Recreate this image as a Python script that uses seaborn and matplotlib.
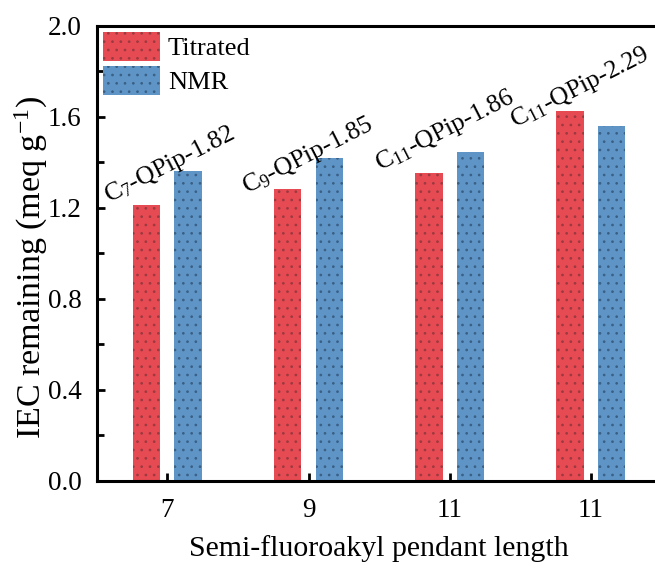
import matplotlib
matplotlib.use("Agg")
import matplotlib.pyplot as plt
from matplotlib.ticker import MultipleLocator
from matplotlib.patches import Patch
import seaborn as sns
import pandas as pd

# ---- data ----
groups = ["C7", "C9", "C11a", "C11b"]
xtick_labels = ["7", "9", "11", "11"]
titrated = [1.21, 1.282, 1.351, 1.626]
nmr = [1.361, 1.42, 1.443, 1.557]
series = ["Titrated", "NMR"]
sample_labels = [r"C$_{7}$-QPip-1.82", r"C$_{9}$-QPip-1.85",
                 r"C$_{11}$-QPip-1.86", r"C$_{11}$-QPip-2.29"]

# label anchor placement (offset from group centre, y in data units)
label_dx = [-0.415, -0.44, -0.493, -0.54]
label_y = [1.222, 1.262, 1.36, 1.553]

df = pd.DataFrame({
    "group": groups * 2,
    "value": titrated + nmr,
    "series": [series[0]] * len(groups) + [series[1]] * len(groups),
})

sns.set_style("ticks")
plt.rcParams["font.family"] = ["Liberation Serif", "DejaVu Serif"]
plt.rcParams["mathtext.fontset"] = "custom"
plt.rcParams["mathtext.rm"] = "Liberation Serif"
plt.rcParams["mathtext.it"] = "Liberation Serif:italic"
plt.rcParams["hatch.linewidth"] = 0.7
plt.rcParams["text.color"] = "black"
plt.rcParams["axes.labelcolor"] = "black"
plt.rcParams["xtick.color"] = "black"
plt.rcParams["ytick.color"] = "black"
plt.rcParams["axes.edgecolor"] = "black"

colors = {"Titrated": "#E64A52", "NMR": "#5E95C6"}
hatch_cols = {"Titrated": "#9A3A40", "NMR": "#3A5F85"}

fig = plt.figure(figsize=(6.55, 5.69), dpi=100)
ax = fig.add_axes([96.7 / 655, 88 / 569, (661.5 - 96.7) / 655, (481 - 25.5) / 569])

sns.barplot(data=df, x="group", y="value", hue="series", order=groups,
            hue_order=series, palette=colors, width=0.588, gap=0.34,
            ax=ax, legend=False, saturation=1)

for cont, s in zip(ax.containers, series):
    for p in cont:
        p.set_hatch("..")
        p.set_edgecolor(hatch_cols[s])
        p.set_linewidth(0)

ax.set_xlim(-0.5, 3.5)
ax.set_ylim(0, 2.0)
ax.yaxis.set_major_locator(MultipleLocator(0.4))
ax.yaxis.set_minor_locator(MultipleLocator(0.2))
ax.set_yticks([0, 0.4, 0.8, 1.2, 1.6, 2.0])
ax.set_yticklabels(["0.0", "0.4", "0.8", "1.2", "1.6", "2.0"])
ax.set_xticks(range(len(groups)))
ax.set_xticklabels(xtick_labels)
ax.tick_params(axis="both", which="major", direction="in", length=6, width=2,
               labelsize=19.5)
ax.tick_params(axis="y", which="major", pad=11)
ax.tick_params(axis="x", which="major", pad=12)
ax.tick_params(axis="y", which="minor", direction="in", length=5, width=2)
for sp in ax.spines.values():
    sp.set_linewidth(2.2)
    sp.set_visible(True)

ax.set_xlabel("Semi-fluoroakyl pendant length", fontsize=21.5, labelpad=9)
ax.set_ylabel(r"IEC remaining (meq g$^{-1}$)", fontsize=24.5)
ax.yaxis.set_label_coords(-0.083, 0.469)

for i, (lab, dx, y) in enumerate(zip(sample_labels, label_dx, label_y)):
    ax.text(i + dx, y, lab, rotation=27, rotation_mode="anchor",
            ha="left", va="baseline", fontsize=18.5, zorder=5)

handles = [Patch(facecolor=colors[s], edgecolor=hatch_cols[s], hatch="..",
                 linewidth=0, label=s) for s in series]
ax.legend(handles=handles, loc="upper left", frameon=False, fontsize=19,
          handlelength=2.15, handleheight=1.3, borderaxespad=0.1,
          labelspacing=0.2, handletextpad=0.3, borderpad=0.15,
          bbox_to_anchor=(0.0, 1.0))

fig.savefig("out.png", dpi=100)
